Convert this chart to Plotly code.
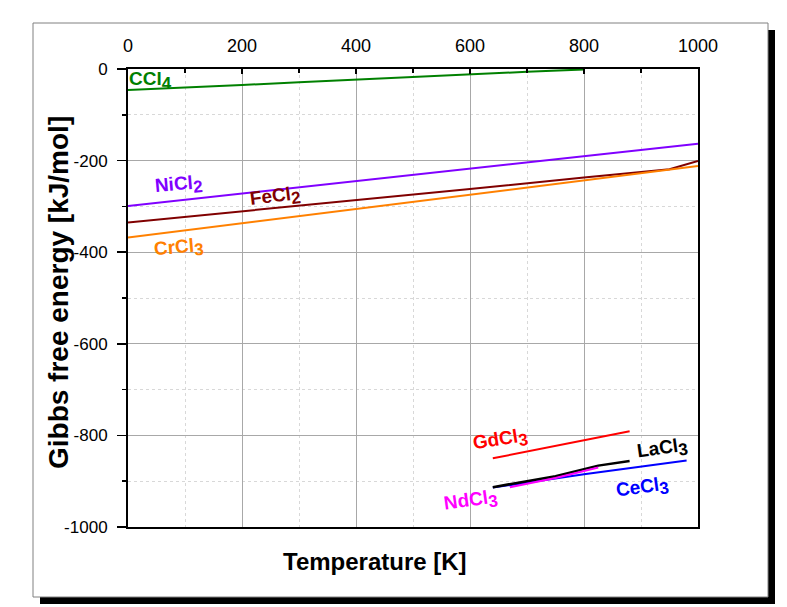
import plotly.graph_objects as go

# ---- data ----
T_ccl4 = [0, 100, 200, 300, 400, 500, 600, 700, 800]
G_ccl4 = [-46, -41, -35, -29, -23, -17, -12, -6, -1]

T_nicl2 = [0, 200, 400, 600, 800, 1000]
G_nicl2 = [-299, -272, -245, -217, -190, -163]

T_fecl2 = [0, 200, 400, 600, 800, 950, 1000]
G_fecl2 = [-335, -311, -286, -262, -237, -219, -201]

T_crcl3 = [0, 200, 400, 600, 800, 1000]
G_crcl3 = [-368, -337, -306, -274, -243, -212]

T_gdcl3 = [640, 760, 880]
G_gdcl3 = [-850, -821, -791]

T_lacl3 = [640, 750, 825, 880]
G_lacl3 = [-913, -889, -866, -856]

T_ndcl3 = [670, 750, 825]
G_ndcl3 = [-913, -893, -870]

T_cecl3 = [640, 800, 980]
G_cecl3 = [-914, -885, -855]

x_ticks = [0, 200, 400, 600, 800, 1000]
y_ticks = [0, -200, -400, -600, -800, -1000]

FONT = "Liberation Sans, Arial, sans-serif"


def chem(base, sub):
    return ("<b>" + base + "<sub><span style=\"font-size:17px\">" + sub +
            "</span></sub></b>")


series = [
    (chem("CCl", "4"), T_ccl4, G_ccl4, "#008000", 40, -25, 0, 2),
    (chem("NiCl", "2"), T_nicl2, G_nicl2, "#8000ff", 88, -255, -5, 2),
    (chem("FeCl", "2"), T_fecl2, G_fecl2, "#800000", 258, -281, -7, 2),
    (chem("CrCl", "3"), T_crcl3, G_crcl3, "#ff8000", 89, -391, -5, 2),
    (chem("CeCl", "3"), T_cecl3, G_cecl3, "#0000ff", 902, -915, -8, 2),
    (chem("LaCl", "3"), T_lacl3, G_lacl3, "#000000", 937, -830, -8, 2.5),
    (chem("NdCl", "3"), T_ndcl3, G_ndcl3, "#ff00ff", 602, -945, -8, 2),
    (chem("GdCl", "3"), T_gdcl3, G_gdcl3, "#ff0000", 654, -812, -9, 2),
]

fig = go.Figure()
annotations = []
for name, xs, ys, color, lx, ly, ang, lw in series:
    fig.add_trace(go.Scatter(x=xs, y=ys, mode="lines",
                             line=dict(color=color, width=lw), showlegend=False,
                             hoverinfo="skip"))
    annotations.append(dict(x=lx, y=ly, xref="x", yref="y", text=name,
                            showarrow=False, textangle=ang,
                            font=dict(family=FONT, size=19, color=color)))

annotations.append(dict(x=(375 - 128) / 570.0, y=0, xref="paper", yref="paper",
                        yshift=-34, text="<b>Temperature [K]</b>", showarrow=False,
                        xanchor="center", yanchor="middle",
                        font=dict(family=FONT, size=24, color="black")))
annotations.append(dict(x=(58 - 128) / 570.0, y=0.5, xref="paper", yref="paper",
                        yshift=5,
                        text="<b>Gibbs free energy [kJ/mol]</b>", showarrow=False,
                        textangle=-90, xanchor="center", yanchor="middle",
                        font=dict(family=FONT, size=28, color="black")))


def px2paper_x(p):
    return (p - 128) / 570.0


def px2paper_y(p):
    return (527 - p) / 458.0


shapes = [
    # drop shadow
    dict(type="rect", xref="paper", yref="paper", layer="below",
         x0=px2paper_x(40), x1=px2paper_x(775), y0=px2paper_y(604), y1=px2paper_y(30),
         fillcolor="black", line=dict(width=0)),
    # frame
    dict(type="rect", xref="paper", yref="paper", layer="below",
         x0=px2paper_x(33), x1=px2paper_x(768), y0=px2paper_y(597), y1=px2paper_y(23),
         fillcolor="white", line=dict(color="#808080", width=1)),
]

fig.update_layout(
    width=787, height=607,
    margin=dict(l=128, r=89, t=69, b=80, pad=0),
    paper_bgcolor="white", plot_bgcolor="rgba(0,0,0,0)",
    font=dict(family=FONT, size=16, color="black"),
    annotations=annotations, shapes=shapes,
    xaxis=dict(range=[0, 1000], side="top", tickvals=x_ticks,
               ticktext=[str(v) for v in x_ticks],
               ticks="inside", ticklen=5, tickwidth=1.5, tickcolor="black",
               showline=True, linecolor="black", linewidth=2, mirror=True,
               showgrid=True, gridcolor="#a8a8a8", gridwidth=1,
               zeroline=False, ticklabelstandoff=8,
               tickfont=dict(family=FONT, size=18),
               minor=dict(dtick=100, tick0=0, ticks="inside", ticklen=4,
                          tickcolor="black", showgrid=True, gridcolor="#d8d8d8",
                          griddash="dot", gridwidth=1)),
    yaxis=dict(range=[-1000, 0], tickvals=y_ticks,
               ticktext=[str(v) for v in y_ticks],
               ticks="outside", ticklen=9, tickwidth=1.5, tickcolor="black",
               showline=True, linecolor="black", linewidth=2, mirror=True,
               showgrid=True, gridcolor="#a8a8a8", gridwidth=1,
               zeroline=False, ticklabelstandoff=6,
               tickfont=dict(family=FONT, size=17),
               minor=dict(dtick=100, tick0=0, ticks="outside", ticklen=4,
                          tickcolor="black", showgrid=True, gridcolor="#d8d8d8",
                          griddash="dot", gridwidth=1)),
)

fig.write_html("out.html",
               config={"displayModeBar": False, "staticPlot": True},
               post_script="document.body.style.margin='0';"
                           "document.body.style.overflow='hidden';")
